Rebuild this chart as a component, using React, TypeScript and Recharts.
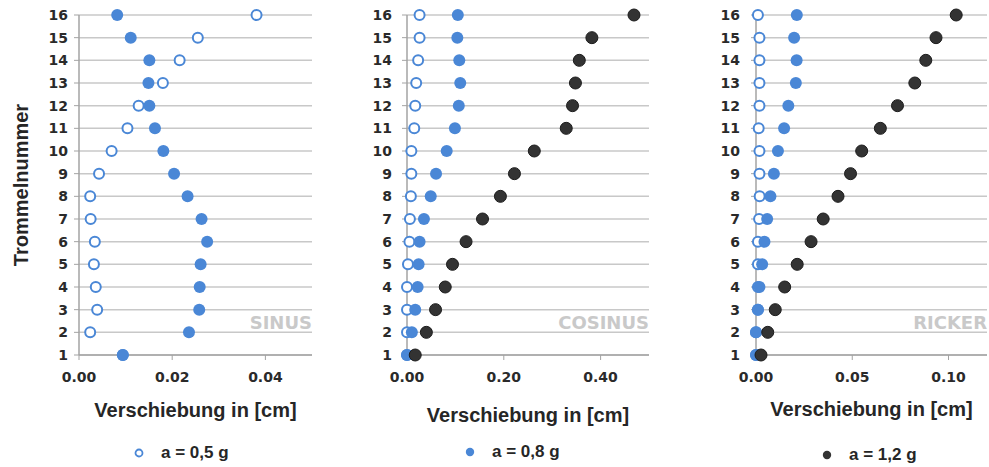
import { CartesianGrid, Scatter, ScatterChart, XAxis, YAxis } from "recharts";

// Trommelnummer 1..16 (index 0 = Trommel 1)
const drums = [1, 2, 3, 4, 5, 6, 7, 8, 9, 10, 11, 12, 13, 14, 15, 16];

// SINUS
const sinus05 = [0.0094, 0.0024, 0.0039, 0.0036, 0.0032, 0.0034, 0.0025, 0.0024, 0.0043, 0.007, 0.0104, 0.0128, 0.018, 0.0216, 0.0255, 0.0381];
const sinus08 = [0.0094, 0.0236, 0.0258, 0.0259, 0.0261, 0.0275, 0.0263, 0.0233, 0.0204, 0.0181, 0.0163, 0.0151, 0.0149, 0.0151, 0.0111, 0.0082];

// COSINUS
const cosinus05 = [0, 0, 0, 0, 0.002, 0.005, 0.006, 0.008, 0.009, 0.009, 0.015, 0.017, 0.019, 0.023, 0.026, 0.026];
const cosinus08 = [0, 0.01, 0.017, 0.022, 0.024, 0.026, 0.035, 0.049, 0.06, 0.082, 0.099, 0.107, 0.11, 0.108, 0.104, 0.105];
const cosinus12 = [0.017, 0.04, 0.059, 0.079, 0.094, 0.122, 0.156, 0.193, 0.222, 0.263, 0.329, 0.342, 0.348, 0.356, 0.382, 0.469];

// RICKER
const ricker05 = [0, 0, 0.001, 0.001, 0.001, 0.001, 0.0016, 0.0019, 0.0018, 0.0018, 0.0014, 0.0018, 0.0018, 0.0018, 0.0018, 0.001];
const ricker08 = [0, 0, 0.001, 0.0018, 0.0032, 0.0044, 0.0058, 0.0075, 0.0093, 0.0114, 0.0146, 0.0168, 0.0207, 0.0211, 0.0198, 0.0212];
const ricker12 = [0.0026, 0.0061, 0.01, 0.0149, 0.0214, 0.0286, 0.0349, 0.0426, 0.0491, 0.0549, 0.0646, 0.0735, 0.0825, 0.0882, 0.0935, 0.104];

const sinusTicks = [0, 0.02, 0.04];
const cosinusTicks = [0, 0.2, 0.4];
const rickerTicks = [0, 0.05, 0.1];

const BLUE = "#4a87d6";
const DARK = "#333333";
const GRID = "#c8c8c8";
const AXIS = "#a3a3a3";
const SANS = "'Liberation Sans', Arial, sans-serif";
const WIDE = "'DejaVu Sans', Verdana, sans-serif";

type Kind = "open" | "blue" | "dark";

const shapes: Record<Kind, (p: any) => JSX.Element> = {
  open: (p) => <circle cx={p.cx} cy={p.cy} r={5} fill="#fff" stroke={BLUE} strokeWidth={2} />,
  blue: (p) => <circle cx={p.cx} cy={p.cy} r={6} fill={BLUE} />,
  dark: (p) => <circle cx={p.cx} cy={p.cy} r={6} fill={DARK} stroke="#1c1c1c" strokeWidth={1} />,
};

const toPoints = (values: number[]) => drums.map((d, i) => ({ x: values[i], y: d }));

interface PanelProps {
  left: number;
  width: number;
  axisWidth: number;
  marginRight: number;
  xMax: number;
  xTicks: number[];
  series: { kind: Kind; values: number[] }[];
  tag: string;
  tickGap: number;
  labelOffset: number;
  yLabel?: string;
}

function Panel(p: PanelProps) {
  return (
    <div style={{ position: "absolute", left: p.left, top: 0, width: p.width, height: 467 }}>
      <ScatterChart width={p.width} height={467} margin={{ top: 15, right: p.marginRight, bottom: 0, left: 0 }}>
        <CartesianGrid horizontal vertical={false} stroke={GRID} strokeWidth={1.5} />
        <XAxis
          type="number"
          dataKey="x"
          domain={[0, p.xMax]}
          ticks={p.xTicks}
          height={112}
          tickSize={5}
          tickMargin={12}
          tickFormatter={(v: number) => v.toFixed(2)}
          axisLine={{ stroke: AXIS, strokeWidth: 1.5 }}
          tickLine={{ stroke: AXIS }}
          tick={{ fill: "#2a2a2a", fontSize: 14, fontWeight: 700, fontFamily: WIDE }}
          label={{
            value: "Verschiebung in [cm]",
            position: "insideTop",
            offset: p.labelOffset,
            fill: "#262626",
            fontSize: 20,
            fontWeight: 700,
            fontFamily: SANS,
          }}
        />
        <YAxis
          type="number"
          dataKey="y"
          domain={[1, 16]}
          ticks={drums}
          interval={0}
          width={p.axisWidth}
          tickSize={5}
          tickMargin={p.tickGap}
          axisLine={{ stroke: AXIS, strokeWidth: 1.5 }}
          tickLine={{ stroke: AXIS }}
          tick={{ fill: "#2a2a2a", fontSize: 14, fontWeight: 700, fontFamily: WIDE }}
          label={
            p.yLabel
              ? {
                  value: p.yLabel,
                  angle: -90,
                  position: "insideLeft",
                  offset: 21,
                  fill: "#262626",
                  fontSize: 20,
                  fontWeight: 700,
                  fontFamily: SANS,
                  style: { textAnchor: "middle" },
                }
              : undefined
          }
        />
        {p.series.map((s, i) => (
          <Scatter key={i} data={toPoints(s.values)} shape={shapes[s.kind]} isAnimationActive={false} />
        ))}
      </ScatterChart>
      <div
        style={{
          position: "absolute",
          right: p.marginRight,
          top: 311,
          fontFamily: WIDE,
          fontWeight: 700,
          fontSize: 18,
          lineHeight: "24px",
          color: "#c9c9c9",
        }}
      >
        {p.tag}
      </div>
    </div>
  );
}

function LegendItem({ x, y, kind, text }: { x: number; y: number; kind: Kind; text: string }) {
  return (
    <div style={{ position: "absolute", left: x, top: y - 11, height: 22, display: "flex", alignItems: "center" }}>
      <svg width={12} height={12} style={{ marginRight: 16 }}>
        {kind === "open" ? (
          <circle cx={6} cy={6} r={3.5} fill="#fff" stroke={BLUE} strokeWidth={1.8} />
        ) : (
          <circle cx={6} cy={6} r={4.2} fill={kind === "blue" ? BLUE : DARK} />
        )}
      </svg>
      <span style={{ fontFamily: SANS, fontSize: 17, fontWeight: 700, color: "#262626" }}>{text}</span>
    </div>
  );
}

export default function App() {
  return (
    <div style={{ position: "absolute", left: 0, top: 0, width: 989, height: 467, background: "#fff" }}>
      <Panel
        left={0}
        width={330}
        axisWidth={79}
        marginRight={18}
        xMax={0.05}
        xTicks={sinusTicks}
        series={[
          { kind: "open", values: sinus05 },
          { kind: "blue", values: sinus08 },
        ]}
        tag="SINUS"
        tickGap={6}
        labelOffset={48}
        yLabel="Trommelnummer"
      />
      <Panel
        left={330}
        width={330}
        axisWidth={77}
        marginRight={11}
        xMax={0.5}
        xTicks={cosinusTicks}
        series={[
          { kind: "open", values: cosinus05 },
          { kind: "blue", values: cosinus08 },
          { kind: "dark", values: cosinus12 },
        ]}
        tag="COSINUS"
        tickGap={10}
        labelOffset={53}
      />
      <Panel
        left={660}
        width={329}
        axisWidth={96}
        marginRight={2}
        xMax={0.12}
        xTicks={rickerTicks}
        series={[
          { kind: "open", values: ricker05 },
          { kind: "blue", values: ricker08 },
          { kind: "dark", values: ricker12 },
        ]}
        tag="RICKER"
        tickGap={11}
        labelOffset={47}
      />
      <LegendItem x={133} y={453} kind="open" text="a = 0,5 g" />
      <LegendItem x={464} y={452} kind="blue" text="a = 0,8 g" />
      <LegendItem x={821} y={455} kind="dark" text="a = 1,2 g" />
    </div>
  );
}
